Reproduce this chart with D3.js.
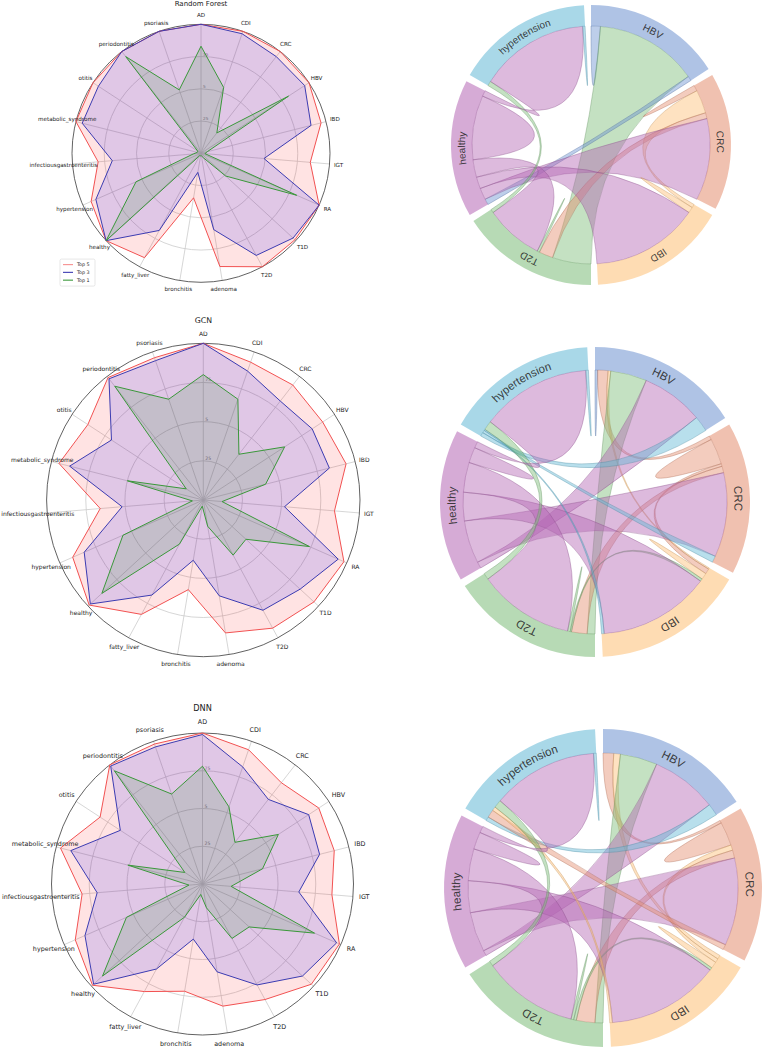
<!DOCTYPE html>
<html>
<head>
<meta charset="utf-8">
<script src="https://cdn.jsdelivr.net/npm/d3@7"></script>
<style>
  body { margin: 0; background: #fff; }
  svg { display: block; }
  text { -webkit-font-smoothing: antialiased; }
</style>
</head>
<body>
<svg id="fig" width="764" height="1050"></svg>
<script>
// ---- radar data ----
var categories = ['AD', 'CDI', 'CRC', 'HBV', 'IBD', 'IGT', 'RA', 'T1D', 'T2D', 'adenoma',
  'bronchitis', 'fatty_liver', 'healthy', 'hypertension', 'infectiousgastroenteritis',
  'metabolic_syndrome', 'otitis', 'periodontitis', 'psoriasis'];
var seriesNames = ['Top 5', 'Top 3', 'Top 1'];
var radarTicks = [0.25, 0.5, 0.75];
var radarTickLabels = ['25', '5', '75'];

var rfTop5 = [1.0, 1.0, 1.0, 1.0, 0.96, 0.85, 1.0, 0.99, 1.0, 0.89, 0.35, 0.92, 1.0, 0.93, 0.80, 1.0, 1.0, 1.0, 1.0];
var rfTop3 = [1.0, 0.98, 0.95, 0.96, 0.88, 0.49, 1.0, 0.97, 0.90, 0.60, 0.15, 0.68, 1.0, 0.89, 0.69, 0.95, 0.95, 1.0, 1.0];
var rfTop1 = [0.83, 0.54, 0.20, 0.81, 0.05, 0.03, 0.81, 0.26, 0.04, 0.02, 0.02, 0.02, 1.0, 0.55, 0.06, 0.03, 0.03, 0.95, 0.52];

var gcnTop5 = [1.0, 0.93, 0.93, 0.91, 0.94, 0.84, 0.98, 0.96, 0.93, 0.86, 0.58, 0.83, 0.99, 0.91, 0.66, 0.95, 0.88, 0.99, 0.96];
var gcnTop3 = [1.0, 0.87, 0.80, 0.83, 0.83, 0.52, 0.94, 0.84, 0.80, 0.62, 0.39, 0.69, 0.98, 0.83, 0.52, 0.88, 0.70, 0.98, 0.94];
var gcnTop1 = [0.80, 0.68, 0.37, 0.62, 0.41, 0.12, 0.74, 0.37, 0.40, 0.17, 0.04, 0.32, 0.88, 0.56, 0.07, 0.50, 0.13, 0.92, 0.68];

var dnnTop5 = [1.0, 0.94, 0.85, 0.92, 0.90, 0.86, 0.99, 0.98, 0.87, 0.82, 0.72, 0.81, 0.99, 0.92, 0.80, 0.97, 0.81, 1.0, 0.98];
var dnnTop3 = [0.99, 0.82, 0.71, 0.84, 0.80, 0.64, 0.97, 0.90, 0.76, 0.59, 0.37, 0.64, 0.98, 0.85, 0.70, 0.90, 0.65, 0.99, 0.96];
var dnnTop1 = [0.78, 0.54, 0.35, 0.60, 0.41, 0.19, 0.81, 0.42, 0.41, 0.16, 0.07, 0.25, 0.90, 0.55, 0.09, 0.51, 0.14, 0.95, 0.63];

// ---- chord data (rows: true class, cols: predicted) ----
var chordGroups = ['HBV', 'CRC', 'IBD', 'T2D', 'healthy', 'hypertension'];
var rfChord = [
  [0.08, 0,    0,    0.88, 0.04, 0   ],
  [0,    0.05, 0.20, 0.05, 0.70, 0   ],
  [0,    0.03, 0.05, 0,    0.92, 0   ],
  [0.33, 0.12, 0,    0.02, 0.50, 0.03],
  [0.05, 0.10, 0.10, 0.15, 0.55, 0.05],
  [0,    0,    0,    0.04, 0.94, 0.02]
];
var gcnChord = [
  [0.02, 0.08, 0.02, 0.28, 0.48, 0.12],
  [0.03, 0.20, 0.02, 0.05, 0.65, 0.05],
  [0.01, 0.04, 0.05, 0.02, 0.86, 0.02],
  [0.06, 0.12, 0.01, 0.02, 0.74, 0.05],
  [0.05, 0.33, 0.22, 0.23, 0.12, 0.05],
  [0.03, 0.02, 0.01, 0.07, 0.85, 0.02]
];
var dnnChord = [
  [0,    0.08, 0.05, 0.28, 0.50, 0.09],
  [0.02, 0.18, 0.04, 0.06, 0.66, 0.04],
  [0.03, 0.03, 0.05, 0.02, 0.85, 0.02],
  [0.06, 0.14, 0.02, 0.02, 0.72, 0.04],
  [0.04, 0.30, 0.24, 0.24, 0.13, 0.05],
  [0.03, 0.06, 0.03, 0.06, 0.80, 0.02]
];

// ---- styles ----
var seriesStyle = [
  { line: '#f25252', fill: '#ff0000', op: 0.11 },
  { line: '#3c3cb2', fill: '#0000ff', op: 0.12 },
  { line: '#3a983a', fill: '#008000', op: 0.12 }
];
var groupColor = ['#6d92d0', '#e48e6f', '#fdbf75', '#7cbc78', '#b466b4', '#62b8d5'];

var svg = d3.select('#fig');

function drawRadar(cfg) {
  var g = svg.append('g')
    .attr('transform', 'translate(' + cfg.cx + ',' + cfg.cy + ')');
  var r = d3.scaleLinear().domain([0, 1]).range([0, cfg.R]);
  var angle = d3.scaleLinear().domain([0, categories.length]).range([0, 2 * Math.PI]);

  g.selectAll('circle.ring').data(radarTicks).enter().append('circle')
    .attr('class', 'ring')
    .attr('r', function(d) { return r(d); })
    .attr('fill', 'none')
    .attr('stroke', '#cccccc')
    .attr('stroke-width', 0.8);

  g.selectAll('line.spoke').data(categories).enter().append('line')
    .attr('class', 'spoke')
    .attr('x2', function(d, i) { return r(1) * Math.sin(angle(i)); })
    .attr('y2', function(d, i) { return -r(1) * Math.cos(angle(i)); })
    .attr('stroke', '#cccccc')
    .attr('stroke-width', 0.8);

  g.append('circle')
    .attr('r', r(1))
    .attr('fill', 'none')
    .attr('stroke', '#3a3a3a')
    .attr('stroke-width', 0.8);

  g.selectAll('text.tick').data(radarTicks).enter().append('text')
    .attr('class', 'tick')
    .attr('x', 2)
    .attr('y', function(d) { return -r(d) - 1; })
    .attr('font-family', 'DejaVu Sans, sans-serif')
    .attr('font-size', cfg.tickFont)
    .attr('fill', '#8a8a8a')
    .text(function(d, i) { return radarTickLabels[i]; });

  var line = d3.lineRadial()
    .angle(function(d, i) { return angle(i); })
    .radius(function(d) { return r(d); })
    .curve(d3.curveLinearClosed);

  cfg.series.forEach(function(vals, k) {
    g.append('path')
      .datum(vals)
      .attr('d', line)
      .attr('fill', seriesStyle[k].fill)
      .attr('fill-opacity', seriesStyle[k].op)
      .attr('stroke', seriesStyle[k].line)
      .attr('stroke-width', 1);
  });

  g.selectAll('text.cat').data(categories).enter().append('text')
    .attr('class', 'cat')
    .attr('x', function(d, i) { return r(cfg.labelR) * Math.sin(angle(i)); })
    .attr('y', function(d, i) { return -r(cfg.labelR) * Math.cos(angle(i)); })
    .attr('text-anchor', 'middle')
    .attr('dominant-baseline', 'central')
    .attr('font-family', 'DejaVu Sans, sans-serif')
    .attr('font-size', cfg.labelFont)
    .attr('fill', '#222')
    .text(function(d) { return d; });

  g.append('text')
    .attr('x', 0)
    .attr('y', -cfg.R - cfg.titleGap)
    .attr('text-anchor', 'middle')
    .attr('dominant-baseline', 'central')
    .attr('font-family', 'DejaVu Sans, sans-serif')
    .attr('font-size', cfg.titleFont)
    .attr('fill', '#222')
    .text(cfg.title);

  if (cfg.legend) {
    var lg = g.append('g')
      .attr('transform', 'translate(' + (-cfg.R - 12) + ',' + (cfg.R * 0.82) + ')');
    lg.append('rect')
      .attr('width', 35).attr('height', 27).attr('rx', 1.5)
      .attr('fill', '#fff').attr('fill-opacity', 0.8)
      .attr('stroke', '#d6d6d6').attr('stroke-width', 0.6);
    seriesNames.forEach(function(name, k) {
      var y = 5.5 + k * 7.8;
      lg.append('line')
        .attr('x1', 3).attr('x2', 13).attr('y1', y).attr('y2', y)
        .attr('stroke', seriesStyle[k].line).attr('stroke-width', 1.2)
        .attr('stroke-opacity', k === 0 ? 0.6 : 0.9);
      lg.append('text')
        .attr('x', 17).attr('y', y)
        .attr('dominant-baseline', 'central')
        .attr('font-family', 'DejaVu Sans, sans-serif')
        .attr('font-size', 4.8)
        .attr('fill', '#222')
        .text(name);
    });
  }
}

function drawChord(cfg) {
  var g = svg.append('g')
    .attr('transform', 'translate(' + cfg.cx + ',' + cfg.cy + ')');
  var chords = d3.chord().padAngle(0.05)(cfg.matrix);
  var ribbon = d3.ribbon().radius(cfg.rIn);
  var arc = d3.arc().innerRadius(cfg.rIn).outerRadius(cfg.rOut);

  // ribbons take the colour of the class at their narrow end
  g.selectAll('path.rib').data(chords).enter().append('path')
    .attr('class', 'rib')
    .attr('d', ribbon)
    .attr('fill', function(d) { return groupColor[d.target.index]; })
    .attr('fill-opacity', 0.45)
    .attr('stroke', function(d) { return d3.color(groupColor[d.target.index]).darker(0.8); })
    .attr('stroke-opacity', 0.45)
    .attr('stroke-width', 0.8);

  g.selectAll('path.grp').data(chords.groups).enter().append('path')
    .attr('class', 'grp')
    .attr('d', arc)
    .attr('fill', function(d) { return groupColor[d.index]; })
    .attr('fill-opacity', 0.55);

  var rl = (cfg.rIn + cfg.rOut) / 2 - 0.35 * cfg.font;
  g.selectAll('path.lp').data(chords.groups).enter().append('path')
    .attr('class', 'lp')
    .attr('id', function(d) { return cfg.id + '-lab-' + d.index; })
    .attr('fill', 'none')
    .attr('d', function(d) {
      var a0 = d.startAngle, a1 = d.endAngle;
      return 'M' + rl * Math.sin(a0) + ',' + (-rl * Math.cos(a0)) +
        'A' + rl + ',' + rl + ' 0 0 1 ' + rl * Math.sin(a1) + ',' + (-rl * Math.cos(a1));
    });

  g.selectAll('text.glab').data(chords.groups).enter().append('text')
    .attr('class', 'glab')
    .attr('font-family', 'Liberation Sans, Arial, sans-serif')
    .attr('font-size', cfg.font)
    .attr('fill', '#2a2a2a')
    .attr('fill-opacity', 0.9)
    .append('textPath')
    .attr('href', function(d) { return '#' + cfg.id + '-lab-' + d.index; })
    .attr('startOffset', '50%')
    .attr('text-anchor', 'middle')
    .text(function(d) { return chordGroups[d.index]; });
}

drawRadar({ cx: 201, cy: 153.3, R: 129, labelFont: 5.6, labelR: 1.07, titleFont: 7, tickFont: 4.2,
  titleGap: 20, title: 'Random Forest', series: [rfTop5, rfTop3, rfTop1], legend: true });
drawRadar({ cx: 203.3, cy: 500, R: 156.7, labelFont: 6.0, labelR: 1.06, titleFont: 7.8, tickFont: 4.6,
  titleGap: 22.6, title: 'GCN', series: [gcnTop5, gcnTop3, gcnTop1], legend: false });
drawRadar({ cx: 202.5, cy: 884, R: 151, labelFont: 6.4, labelR: 1.075, titleFont: 8.2, tickFont: 4.6,
  titleGap: 25, title: 'DNN', series: [dnnTop5, dnnTop3, dnnTop1], legend: false });

drawChord({ id: 'c1', cx: 591, cy: 145, rOut: 140, rIn: 119, font: 10, matrix: rfChord });
drawChord({ id: 'c2', cx: 595, cy: 502, rOut: 155, rIn: 132, font: 11.4, matrix: gcnChord });
drawChord({ id: 'c3', cx: 603, cy: 888, rOut: 159, rIn: 135, font: 11.6, matrix: dnnChord });
</script>
</body>
</html>
